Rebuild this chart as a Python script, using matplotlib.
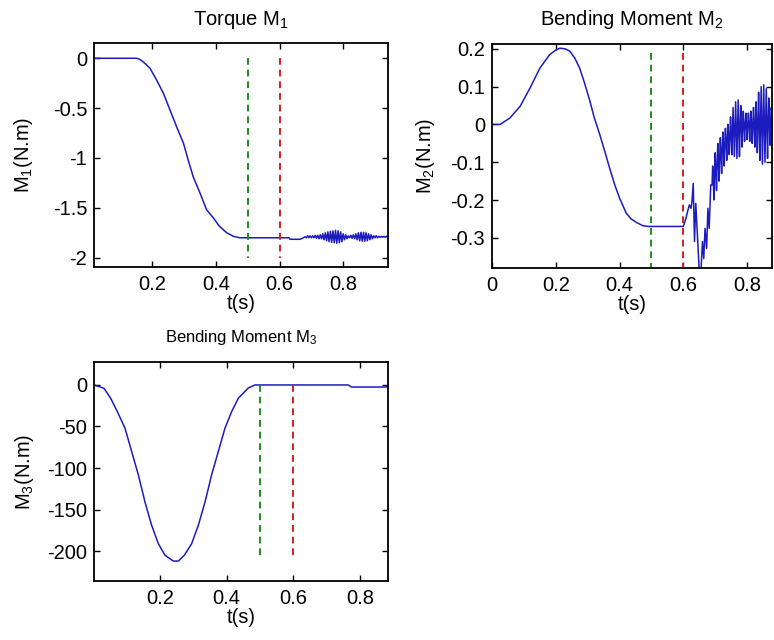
import matplotlib
matplotlib.use("Agg")
import matplotlib.pyplot as plt
import numpy as np

plt.rcParams['font.family'] = ['Liberation Sans', 'DejaVu Sans']
plt.rcParams['mathtext.fontset'] = 'custom'
plt.rcParams['mathtext.rm'] = 'Liberation Sans'
plt.rcParams['mathtext.it'] = 'Liberation Sans'
plt.rcParams['axes.unicode_minus'] = False

# ---------------- data ----------------
# Torque M1
m1_t = [0.018, 0.151, 0.160, 0.172, 0.193, 0.214, 0.235, 0.256, 0.277, 0.298,
        0.313, 0.329, 0.350, 0.371, 0.392, 0.410, 0.434, 0.455, 0.475, 0.630,
        0.633, 0.665, 0.675, 0.680,
        0.684, 0.688, 0.692, 0.696, 0.700, 0.704, 0.708, 0.712, 0.716, 0.720,
        0.724, 0.728, 0.732, 0.736, 0.740, 0.744, 0.748, 0.752, 0.756, 0.760,
        0.764, 0.768, 0.772, 0.776, 0.780, 0.784, 0.788, 0.792, 0.796, 0.800,
        0.804, 0.808, 0.812, 0.816, 0.820, 0.824, 0.828, 0.832, 0.836, 0.840,
        0.844, 0.848, 0.852, 0.856, 0.860, 0.864, 0.868, 0.872, 0.876, 0.880,
        0.884, 0.888, 0.892, 0.896, 0.900, 0.904, 0.908, 0.912, 0.916, 0.920,
        0.924, 0.928, 0.932, 0.936, 0.940]
m1_v = [0.0, 0.0, -0.01, -0.037, -0.10, -0.22, -0.35, -0.52, -0.69, -0.85,
        -1.02, -1.19, -1.35, -1.52, -1.60, -1.68, -1.75, -1.785, -1.80, -1.80,
        -1.815, -1.815, -1.80, -1.79,
        -1.80, -1.78, -1.80, -1.78, -1.80, -1.78, -1.80, -1.775, -1.805, -1.775,
        -1.81, -1.77, -1.81, -1.76, -1.82, -1.75, -1.83, -1.74, -1.84, -1.735,
        -1.845, -1.73, -1.85, -1.725, -1.855, -1.73, -1.85, -1.74, -1.84, -1.76,
        -1.82, -1.77, -1.81, -1.78, -1.80, -1.775, -1.805, -1.77, -1.81, -1.76,
        -1.82, -1.75, -1.83, -1.745, -1.835, -1.745, -1.835, -1.75, -1.83, -1.76,
        -1.82, -1.77, -1.81, -1.78, -1.80, -1.78, -1.80, -1.785, -1.795, -1.785,
        -1.795, -1.785, -1.795, -1.785, -1.795]

# Bending moment M2
m2_t = [0.000, 0.025, 0.056, 0.088, 0.119, 0.150, 0.181, 0.200, 0.213, 0.230,
        0.244, 0.260, 0.275, 0.290, 0.306, 0.320, 0.338, 0.355, 0.369, 0.385,
        0.400, 0.421, 0.436, 0.452, 0.473, 0.490, 0.600,
        0.608, 0.613, 0.619, 0.624, 0.627, 0.631, 0.635, 0.639, 0.645, 0.650,
        0.655, 0.660, 0.664, 0.668, 0.673, 0.677, 0.681, 0.686,
        0.690, 0.692, 0.694, 0.696, 0.698, 0.700, 0.702, 0.704, 0.706, 0.708,
        0.710, 0.712, 0.714, 0.716, 0.718, 0.720, 0.722, 0.724, 0.726, 0.728,
        0.730, 0.732, 0.734, 0.736, 0.738, 0.740, 0.742, 0.744, 0.746, 0.748,
        0.750, 0.752, 0.754, 0.756, 0.758, 0.760, 0.762, 0.764, 0.766, 0.768,
        0.770, 0.772, 0.774, 0.776, 0.778, 0.780, 0.782, 0.784, 0.786, 0.788,
        0.790, 0.792, 0.794, 0.796, 0.798, 0.800, 0.802, 0.804, 0.806, 0.808,
        0.810, 0.812, 0.814, 0.816, 0.818, 0.820, 0.822, 0.824, 0.826, 0.828,
        0.830, 0.832, 0.834, 0.836, 0.838, 0.840, 0.842, 0.844, 0.846, 0.848,
        0.850, 0.852, 0.854, 0.856, 0.858, 0.860, 0.862, 0.864, 0.866, 0.868,
        0.870, 0.872, 0.874, 0.876, 0.878, 0.880, 0.882]
m2_v = [0.0, 0.0, 0.017, 0.048, 0.096, 0.149, 0.185, 0.197, 0.202, 0.200,
        0.194, 0.175, 0.149, 0.110, 0.065, 0.020, -0.027, -0.075, -0.116, -0.160,
        -0.195, -0.235, -0.250, -0.259, -0.268, -0.270, -0.270,
        -0.249, -0.231, -0.213, -0.222, -0.204, -0.156, -0.310, -0.209, -0.310, -0.390,
        -0.390, -0.310, -0.355, -0.275, -0.328, -0.222, -0.275, -0.160,
        -0.160, -0.110, -0.150, -0.200, -0.130, -0.075, -0.120, -0.175, -0.105, -0.050,
        -0.095, -0.150, -0.085, -0.035, -0.075, -0.130, -0.068, -0.020, -0.060, -0.110,
        -0.050, -0.010, -0.045, -0.095, -0.038, 0.000, -0.033, -0.080, -0.028, 0.020,
        -0.025, -0.080, -0.022, 0.045, -0.018, -0.085, -0.015, 0.060, -0.012, -0.090,
        -0.010, 0.065, -0.008, -0.085, -0.006, 0.050, -0.005, -0.060, -0.004, 0.035,
        -0.003, -0.045, -0.002, 0.030, -0.001, -0.040, 0.000, 0.030, 0.000, -0.045,
        0.001, 0.035, 0.001, -0.050, 0.001, 0.045, 0.002, -0.060, 0.002, 0.060,
        0.002, -0.075, 0.002, 0.085, 0.003, -0.095, 0.003, 0.100, 0.003, -0.105,
        0.003, 0.105, 0.003, -0.100, 0.003, 0.095, 0.003, -0.090, 0.003, 0.070,
        0.003, -0.055, 0.003, 0.045, 0.003, -0.040, 0.003]

# Bending moment M3
m3_t = [0.003, 0.032, 0.052, 0.072, 0.095, 0.115, 0.135, 0.155, 0.175, 0.195,
        0.215, 0.240, 0.255, 0.273, 0.295, 0.315, 0.335, 0.355, 0.375, 0.395,
        0.415, 0.435, 0.465, 0.485, 0.765, 0.770, 0.775, 0.883]
m3_v = [0.0, -4, -16, -32, -52, -80, -108, -141, -169, -191,
        -205, -212, -212, -205, -191, -169, -141, -108, -80, -52,
        -32, -16, -3.6, 0.0, 0.0, -1.5, -2.5, -2.5]

# event markers (s) and the vertical extent of each marker per panel
event_t = [0.5, 0.6]
event_colors = ['#1e8c1e', '#d42020']
m1_event_span = (0.0, -2.0)
m2_event_span = (0.19, -0.40)
m3_event_span = (0.0, -210.0)

titles = [r'Torque M$_1$', r'Bending Moment M$_2$', r'Bending Moment M$_3$']
ylabels = [r'M$_1$(N.m)', r'M$_2$(N.m)', r'M$_3$(N.m)']
xlabel = 't(s)'

m1_yticks = [-2, -1.5, -1, -0.5, 0]
m1_yticklabels = ['-2', '-1.5', '-1', '-0.5', '0']
m2_yticks = [-0.3, -0.2, -0.1, 0, 0.1, 0.2]
m2_yticklabels = ['-0.3', '-0.2', '-0.1', '0', '0.1', '0.2']
m3_yticks = [-200, -150, -100, -50, 0]
m3_yticklabels = ['-200', '-150', '-100', '-50', '0']
m1_xticks = [0.2, 0.4, 0.6, 0.8]
m2_xticks = [0, 0.2, 0.4, 0.6, 0.8]
m3_xticks = [0.2, 0.4, 0.6, 0.8]
xticklabels_4 = ['0.2', '0.4', '0.6', '0.8']
xticklabels_5 = ['0', '0.2', '0.4', '0.6', '0.8']

# ---------------- figure ----------------
W, H = 774, 640
fig = plt.figure(figsize=(W / 100, H / 100), dpi=100)

def px_axes(l, t, r, b):
    return fig.add_axes([l / W, 1 - b / H, (r - l) / W, (b - t) / H])

ax1 = px_axes(94.3, 43.3, 387.7, 266.7)
ax2 = px_axes(492, 44, 772, 268)
ax3 = px_axes(94.3, 361.7, 387.7, 581)

line_color = '#1c1cbe'
FS = 14.5

def style(ax, title, ylabel, tsize, tpad, ylpad, xticks, xtl, yticks, ytl, xlim, ylim):
    ax.set_xlim(*xlim)
    ax.set_ylim(*ylim)
    ax.set_xticks(xticks)
    ax.set_xticklabels(xtl)
    ax.set_yticks(yticks)
    ax.set_yticklabels(ytl)
    ax.tick_params(direction='in', top=True, right=True, length=4, width=1,
                   labelsize=FS, colors='black')
    ax.tick_params(axis='x', pad=6)
    ax.tick_params(axis='y', pad=5)
    for s in ax.spines.values():
        s.set_linewidth(1.3)
    ax.set_title(title, fontsize=tsize, pad=tpad)
    ax.set_xlabel(xlabel, fontsize=FS, labelpad=0)
    ax.set_ylabel(ylabel, fontsize=FS, labelpad=ylpad)

# M1
ax1.plot(m1_t, m1_v, color=line_color, lw=1.1)
for t, c in zip(event_t, event_colors):
    ax1.plot([t, t], m1_event_span, color=c, lw=1.4, ls=(0, (3.5, 2.5)))
style(ax1, titles[0], ylabels[0], FS, 13, 13, m1_xticks, xticklabels_4,
      m1_yticks, m1_yticklabels, (0.018, 0.94), (-2.09, 0.15))

# M2
ax2.plot(m2_t, m2_v, color=line_color, lw=1.1)
for t, c in zip(event_t, event_colors):
    ax2.plot([t, t], m2_event_span, color=c, lw=1.4, ls=(0, (3.5, 2.5)))
style(ax2, titles[1], ylabels[1], FS, 14, 10, m2_xticks, xticklabels_5,
      m2_yticks, m2_yticklabels, (0.0, 0.878), (-0.38, 0.213))

# M3
ax3.plot(m3_t, m3_v, color=line_color, lw=1.1)
for t, c in zip(event_t, event_colors):
    ax3.plot([t, t], m3_event_span, color=c, lw=1.4, ls=(0, (3.5, 2.5)))
style(ax3, titles[2], ylabels[2], 12, 14, 8, m3_xticks, xticklabels_4,
      m3_yticks, m3_yticklabels, (0.003, 0.883), (-236, 28))

fig.savefig('out.png', dpi=100)
